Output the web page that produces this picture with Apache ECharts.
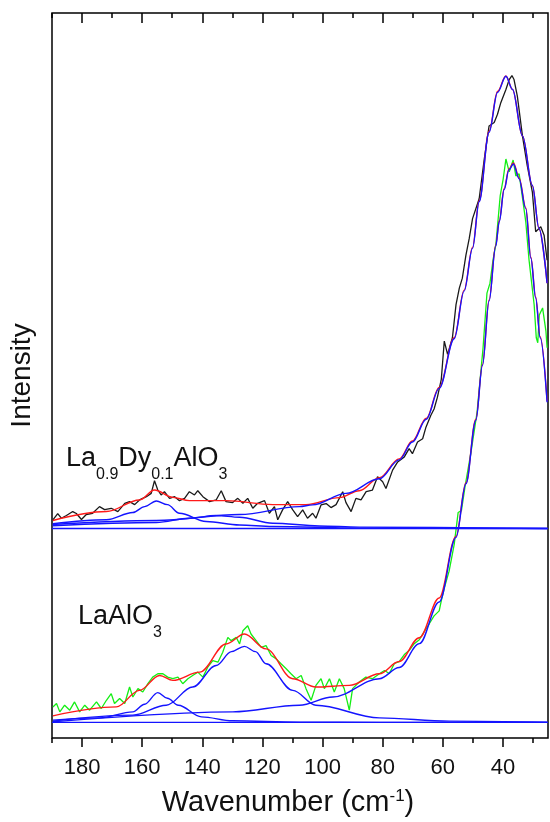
<!DOCTYPE html>
<html>
<head>
<meta charset="utf-8">
<script src="https://cdn.jsdelivr.net/npm/echarts@6/dist/echarts.min.js"></script>
<style>
  html, body { margin: 0; padding: 0; background: #fff; }
  #chart { width: 550px; height: 822px; }
</style>
</head>
<body>
<div id="chart"></div>
<script>
// Wavenumber axis range (cm^-1), drawn high-to-low
const xRange = [25, 190];
const intensityRange = [0, 730];
const majorTicks = [40, 60, 80, 100, 120, 140, 160, 180];
const minorTicks = [30, 50, 70, 90, 110, 130, 150, 170, 190];

// ---- La0.9Dy0.1AlO3 : measured spectrum [wavenumber, intensity] ----
const dopedMeasured = [
  [189.7,219.7],[188.1,226],[186.9,221.3],[185.2,224],[183.1,228],[181.9,226],[180.2,220],[178.6,225],
  [176.5,226.3],[174.2,233],[172.5,230],[170.3,231.3],[168.1,228],[165.8,236.3],[164.2,238],[162.5,235],
  [160.9,239.7],[158.6,243],[157.0,246.3],[155.9,259],[154.8,249.7],[153.7,244.7],[152.6,248],[150.9,241.3],
  [149.2,243],[147.6,239],[145.9,241.3],[144.3,248],[142.6,244.7],[141.5,249],[139.8,243],[137.6,238],
  [135.4,239.7],[133.7,249],[132.1,238],[129.9,237],[128.2,241.3],[126.5,236.3],[124.9,241.3],[123.2,231.3],
  [121.6,236.3],[119.3,239],[117.7,226.3],[116.0,233],[114.9,219.7],[113.3,229.7],[111.6,238],[109.9,229.7],
  [108.3,223],[106.6,229.7],[105.0,221.3],[103.3,226.3],[102.2,221.3],[100.5,234.7],[98.8,236],[97.2,232],
  [95.5,235],[93.3,248],[92.2,237],[90.5,228],[88.9,241.3],[87.2,239.7],[85.5,248],[83.4,249.7],
  [81.7,263],[80.0,258],[78.9,251.3],[76.7,269.7],[75.0,278],[72.8,283],[71.2,291.3],[70.1,286.3],
  [68.4,298],[66.7,301.3],[65.6,313],[64.0,324.7],[62.9,331.3],[61.8,343],[60.5,361],[59.5,399.7],
  [58.4,386.3],[56.8,403],[55.6,436.3],[54.5,453],[53.5,463],[52.3,486.3],[51.2,503],[50.1,523],
  [47.9,543],[46.2,583],[44.6,616.3],[42.9,619.7],[41.8,628],[40.7,639.7],[39.0,653],[37.9,663],
  [37.0,667],[36.3,663],[35.2,646.3],[33.5,606.3],[31.9,576.3],[30.2,549.7],[29.1,509.7],[27.4,514.7],
  [26.3,506.3],[25.3,481]
];
// cumulative fit
const dopedFit = [
  [189.7,219],[171.9,228],[160.9,239.7],[155.9,249.7],[149.8,242.3],[144.3,239],[132.1,239],[116.6,235],
  [105.5,235],[94.4,242],[87.8,249],[81.1,262],[74.5,281],[70.1,299],[65.5,322],[61.2,353],
  [56.2,403],[52.9,451],[50.1,494],[47.9,541],[44.6,611],[41.8,651],[39.0,666.5],[36.8,653],
  [33.5,606.3],[30.2,556.3],[28.0,513],[25.3,458]
];
// fit components
const dopedBandMain = [
  [189.8,215],[155.3,219],[127.6,225],[107.7,233],[103.3,234.7],[92.2,246.3],[81.1,261],[74.5,280],
  [70.1,298],[65.5,321],[61.2,352],[56.2,402],[52.9,450],[50.1,493],[47.9,540],[44.6,610],
  [41.8,650],[39.0,666.3],[36.8,653],[33.5,606.3],[30.2,556.3],[28.0,513],[25.3,458]
];
const dopedBand155 = [
  [189.7,215.7],[171.9,219.7],[163.1,227],[159.2,233],[155.3,238.7],[151.6,235],[147.6,226.3],[138.7,218],
  [127.6,214.5],[116.6,213],[87.8,211.3],[25.3,211]
];
const dopedBand135 = [
  [189.8,213.7],[155.3,217],[144.3,221.3],[135.4,224],[127.6,222.3],[116.6,216.3],[101.1,213.5],[87.8,212.3],
  [25.3,211]
];
const dopedBaseline = [[190,211],[25,211]];

// ---- LaAlO3 : measured spectrum ----
const pureMeasured = [
  [189.7,31.3],[188.5,34.7],[187.4,26.3],[185.8,33],[184.1,28],[182.5,36.3],[180.8,26.3],[179.1,33],
  [177.5,28],[175.2,36.3],[173.6,29.7],[171.9,38],[170.3,44.7],[169.2,34.7],[167.5,39.7],[165.8,34.7],
  [164.2,51.3],[163.1,41.3],[161.4,49.7],[159.8,46.3],[158.1,54.7],[156.5,61.3],[154.8,64.7],[153.1,64.7],
  [151.5,61.3],[149.8,59.7],[148.1,61.3],[146.5,54.7],[144.8,59.7],[143.2,63],[141.5,66.3],[139.8,61.3],
  [138.2,71.3],[136.5,78],[134.8,76.3],[133.2,86.3],[131.5,101.3],[130.4,98],[128.7,101.3],[127.6,94.7],
  [126.5,108],[124.9,113],[123.8,104.7],[122.1,98],[120.4,91.3],[118.8,93],[117.1,83],[115.4,79.7],
  [113.8,74.7],[112.1,69.7],[110.5,64.7],[108.8,59.7],[107.1,63],[105.5,49.7],[103.8,38],[102.2,53],
  [100.5,59.7],[99.4,49.7],[97.7,59.7],[96.1,46.3],[94.4,59.7],[92.8,49.7],[91.1,28],[90.0,49.7],
  [87.8,56.3],[85.6,61.3],[83.4,59.7],[81.1,64.7],[79.4,68],[77.8,65],[76.1,75],[74.5,77],
  [72.8,84],[71.2,88],[69.5,95],[67.8,99],[66.2,107],[64.5,115],[62.9,123],[61.2,128],
  [60.5,138],[59.5,151],[57.9,168],[56.2,195],[54.9,227],[53.8,229],[52.5,255],[50.6,288],
  [48.6,328],[46.6,393],[45.3,448],[44.3,458],[43.3,481],[42.3,498],[40.9,546],[39.9,563],
  [39.0,583],[37.9,570],[36.6,582],[35.7,566],[34.6,568],[33.9,553],[32.4,520],[31.3,481],
  [29.6,436],[28.9,403],[28.4,398],[27.9,426],[26.8,433],[25.7,410],[25.3,393]
];
const pureFit = [
  [189.7,22.3],[168.6,31.3],[160.9,48],[154.2,63],[149.8,58],[140.9,66.3],[132.1,94.7],[126.0,104.7],
  [118.8,89.7],[109.9,59.7],[102.2,51.3],[91.1,53],[81.1,64.7],[74.5,77],[67.8,101],[61.2,141],
  [55.6,203],[52.3,257],[49.0,321],[46.8,376],[44.6,441],[42.4,496],[41.2,521],[39.6,553],
  [38.0,573],[36.5,579],[34.6,564],[32.4,534],[30.7,484],[29.1,444],[27.6,404],[25.3,339]
];
const pureBandMain = [
  [189.7,16.3],[129.9,26.3],[107.7,33],[96.6,41.3],[81.1,59.7],[74.5,71],[67.8,95],[61.2,137],
  [55.6,202],[52.3,256],[49.0,320],[46.8,375],[44.6,440],[42.4,495],[41.2,520],[39.6,552],
  [38.0,572],[36.5,578],[34.6,563],[32.4,533],[30.7,483],[29.1,443],[27.6,403],[25.3,338]
];
const pureBand154 = [
  [189.7,18],[174.2,20.3],[163.1,26.3],[159.2,34],[154.8,45.7],[151.6,40],[148.0,33],[140.3,21.3],
  [129.9,17.3],[107.7,16],[81.1,15.7],[25.3,15.7]
];
const pureBand126 = [
  [189.7,17],[163.1,23],[152.0,33],[143.2,51.3],[135.4,73],[130.3,87],[126.0,92.3],[122.3,87],
  [118.8,74.7],[109.9,48],[102.2,33],[81.1,20.3],[57.9,17],[25.3,16]
];
const pureBaseline = [[190,15.7],[25,15.7]];

const FONT = '"Liberation Sans", Arial, Helvetica, sans-serif';
const BLACK = '#1a1a1a', GREEN = '#14ee14', RED = '#ff1a1a', BLUE = '#1414ff';

function curve(name, data, color, width, smooth) {
  return {
    name, type: 'line', data, xAxisIndex: 0, yAxisIndex: 0,
    showSymbol: false, symbol: 'none', smooth: smooth || false,
    smoothMonotone: smooth ? 'x' : undefined,
    lineStyle: { color, width }, silent: true, animation: false
  };
}

const baseX = {
  type: 'value', min: xRange[0], max: xRange[1], inverse: true, gridIndex: 0,
  splitLine: { show: false }, axisLine: { show: false }
};
const tickStyle = { color: '#000', width: 1.5 };
const formulaRich = {
  m: { fontSize: 27, fontFamily: FONT, fill: '#111', verticalAlign: 'top', lineHeight: 27 },
  s: { fontSize: 16, fontFamily: FONT, fill: '#111', verticalAlign: 'top', lineHeight: 16, padding: [22, 0, 0, 0] }
};

const chart = echarts.init(document.getElementById('chart'), null, { renderer: 'canvas' });
chart.setOption({
  backgroundColor: '#fff',
  animation: false,
  grid: {
    left: 52, right: 2, top: 13, bottom: 79,
    show: true, borderColor: '#000', borderWidth: 1.5, backgroundColor: 'transparent'
  },
  xAxis: [
    Object.assign({}, baseX, {
      position: 'bottom',
      axisTick: { show: true, inside: false, length: 9, customValues: majorTicks, lineStyle: tickStyle },
      axisLabel: { show: true, customValues: majorTicks, fontSize: 22, color: '#111', fontFamily: FONT, margin: 19 },
      name: '{a|Wavenumber (cm}{s|-1}{a|)}',
      nameLocation: 'middle', nameGap: 50,
      nameTextStyle: {
        padding: [0, 24, 0, 0],
        rich: {
          a: { fontSize: 29, fontFamily: FONT, color: '#111', verticalAlign: 'top' },
          s: { fontSize: 17, fontFamily: FONT, color: '#111', verticalAlign: 'top' }
        }
      }
    }),
    Object.assign({}, baseX, {
      position: 'bottom',
      axisTick: { show: true, inside: false, length: 5, customValues: minorTicks, lineStyle: tickStyle },
      axisLabel: { show: false }
    }),
    Object.assign({}, baseX, {
      position: 'top',
      axisTick: { show: true, inside: true, length: 10, customValues: majorTicks, lineStyle: tickStyle },
      axisLabel: { show: false }
    }),
    Object.assign({}, baseX, {
      position: 'top',
      axisTick: { show: true, inside: true, length: 5, customValues: minorTicks, lineStyle: tickStyle },
      axisLabel: { show: false }
    })
  ],
  yAxis: [{
    type: 'value', min: intensityRange[0], max: intensityRange[1],
    axisLine: { show: false }, axisTick: { show: false }, axisLabel: { show: false },
    splitLine: { show: false },
    name: 'Intensity', nameLocation: 'middle', nameGap: 16,
    nameTextStyle: { fontSize: 28, fontFamily: FONT, color: '#111' }
  }],
  graphic: [
    {
      type: 'text', left: 66, top: 445, silent: true,
      style: { text: '{m|La}{s|0.9}{m|Dy}{s|0.1}{m|AlO}{s|3}', rich: formulaRich }
    },
    {
      type: 'text', left: 78, top: 603, silent: true,
      style: { text: '{m|LaAlO}{s|3}', rich: formulaRich }
    }
  ],
  series: [
    curve('La0.9Dy0.1AlO3 measured', dopedMeasured, BLACK, 1.3),
    curve('LaAlO3 measured', pureMeasured, GREEN, 1.3),
    curve('La0.9Dy0.1AlO3 fit', dopedFit, RED, 1.4, 0.35),
    curve('LaAlO3 fit', pureFit, RED, 1.4, 0.35),
    curve('La0.9Dy0.1AlO3 baseline', dopedBaseline, BLUE, 1.4),
    curve('La0.9Dy0.1AlO3 band 155', dopedBand155, BLUE, 1.4, 0.35),
    curve('La0.9Dy0.1AlO3 band 135', dopedBand135, BLUE, 1.4, 0.35),
    curve('La0.9Dy0.1AlO3 band 37', dopedBandMain, BLUE, 1.4, 0.35),
    curve('LaAlO3 baseline', pureBaseline, BLUE, 1.4),
    curve('LaAlO3 band 154', pureBand154, BLUE, 1.4, 0.35),
    curve('LaAlO3 band 126', pureBand126, BLUE, 1.4, 0.35),
    curve('LaAlO3 band 37', pureBandMain, BLUE, 1.4, 0.35)
  ]
});
</script>
</body>
</html>
